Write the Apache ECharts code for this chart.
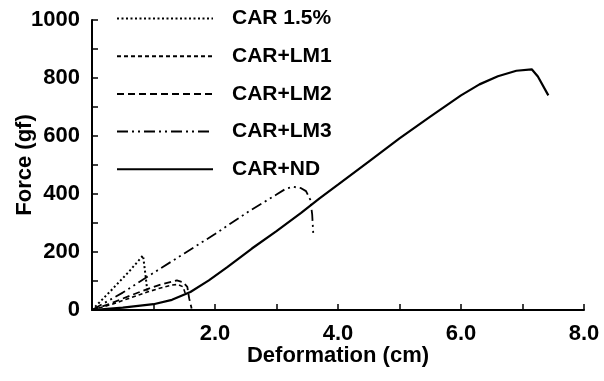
<!DOCTYPE html>
<html>
<head>
<meta charset="utf-8">
<script src="https://cdn.jsdelivr.net/npm/echarts@6/dist/echarts.min.js"></script>
<style>html,body{margin:0;padding:0;background:#fff}#c{width:604px;height:381px}</style>
</head>
<body>
<div id="c"></div>
<script>
var seriesNames = ["CAR 1.5%", "CAR+LM1", "CAR+LM2", "CAR+LM3", "CAR+ND"];
var car15 = [[0,0],[0.3,65],[0.6,132],[0.83,188],[0.87,120],[0.9,65]];
var lm1 = [[0,0],[0.3,18],[0.6,40],[0.9,62],[1.1,75],[1.3,86],[1.4,88],[1.48,80],[1.52,55]];
var lm2 = [[0,0],[0.3,22],[0.6,48],[0.9,72],[1.15,90],[1.38,102],[1.48,96],[1.55,80],[1.58,40],[1.62,5]];
var lm3 = [[0,0],[0.5,60],[1.0,128],[1.5,195],[2.0,262],[2.57,343],[3.0,398],[3.15,418],[3.27,425],[3.4,420],[3.48,410],[3.55,380],[3.58,330],[3.6,255]];
var nd = [[0,0],[0.5,8],[1.0,20],[1.3,35],[1.6,62],[1.9,102],[2.2,148],[2.6,212],[3.0,272],[3.4,335],[3.7,385],[4.0,432],[4.5,512],[5.0,592],[5.5,667],[6.0,740],[6.3,778],[6.6,806],[6.9,825],[7.15,830],[7.25,805],[7.42,740]];
var xTickLabels = ["2.0","4.0","6.0","8.0"];
var yTickLabels = ["0","200","400","600","800","1000"];

var font = "'Liberation Sans', Arial, Helvetica, sans-serif";
var styles = [
  {type:[2,2.5], width:2},
  {type:[4,3], width:1.6},
  {type:[7,4], width:1.8},
  {type:[11,4,2,4,2,4], width:1.8},
  {type:'solid', width:2.2}
];
var datas = [car15, lm1, lm2, lm3, nd];

var chart = echarts.init(document.getElementById('c'), null, {renderer:'canvas'});
chart.setOption({
  backgroundColor:'#fff',
  animation:false,
  grid:{left:92, right:20, top:20, bottom:71, containLabel:false, outerBoundsMode:'none'},
  legend:{
    orient:'vertical', left:116, top:8, padding:0,
    itemWidth:96, itemHeight:14, itemGap:16.7,
    data:seriesNames,
    itemStyle:{opacity:0},
    textStyle:{fontFamily:font, fontWeight:'bold', fontSize:21, color:'#000', padding:[0,0,0,14]},
    selectedMode:false
  },
  xAxis:{
    type:'value', min:0, max:8, interval:1,
    axisLine:{lineStyle:{color:'#000', width:2}},
    axisTick:{inside:true, length:6, lineStyle:{color:'#000', width:1.5}},
    splitLine:{show:false},
    axisLabel:{margin:13, color:'#000', fontFamily:font, fontWeight:'bold', fontSize:22,
      formatter:function(v){var s=v.toFixed(1); return xTickLabels.indexOf(s)>=0?s:'';}},
    name:'Deformation (cm)', nameLocation:'middle', nameGap:35, nameMoveOverlap:false,
    nameTextStyle:{color:'#000', fontFamily:font, fontWeight:'bold', fontSize:22}
  },
  yAxis:{
    type:'value', min:0, max:1000, interval:100,
    axisLine:{lineStyle:{color:'#000', width:2}},
    axisTick:{inside:true, length:6, lineStyle:{color:'#000', width:1.5}},
    splitLine:{show:false},
    axisLabel:{margin:12, color:'#000', fontFamily:font, fontWeight:'bold', fontSize:22,
      formatter:function(v){var s=String(v); return yTickLabels.indexOf(s)>=0?s:'';}},
    name:'Force (gf)', nameLocation:'middle', nameGap:56, nameMoveOverlap:false,
    nameTextStyle:{color:'#000', fontFamily:font, fontWeight:'bold', fontSize:22}
  },
  series: seriesNames.map(function(n,i){
    return {name:n, type:'line', data:datas[i], showSymbol:false, symbol:'none',
      color:'#000',
      lineStyle:{color:'#000', width:styles[i].width, type:styles[i].type}};
  })
});
</script>
</body>
</html>
